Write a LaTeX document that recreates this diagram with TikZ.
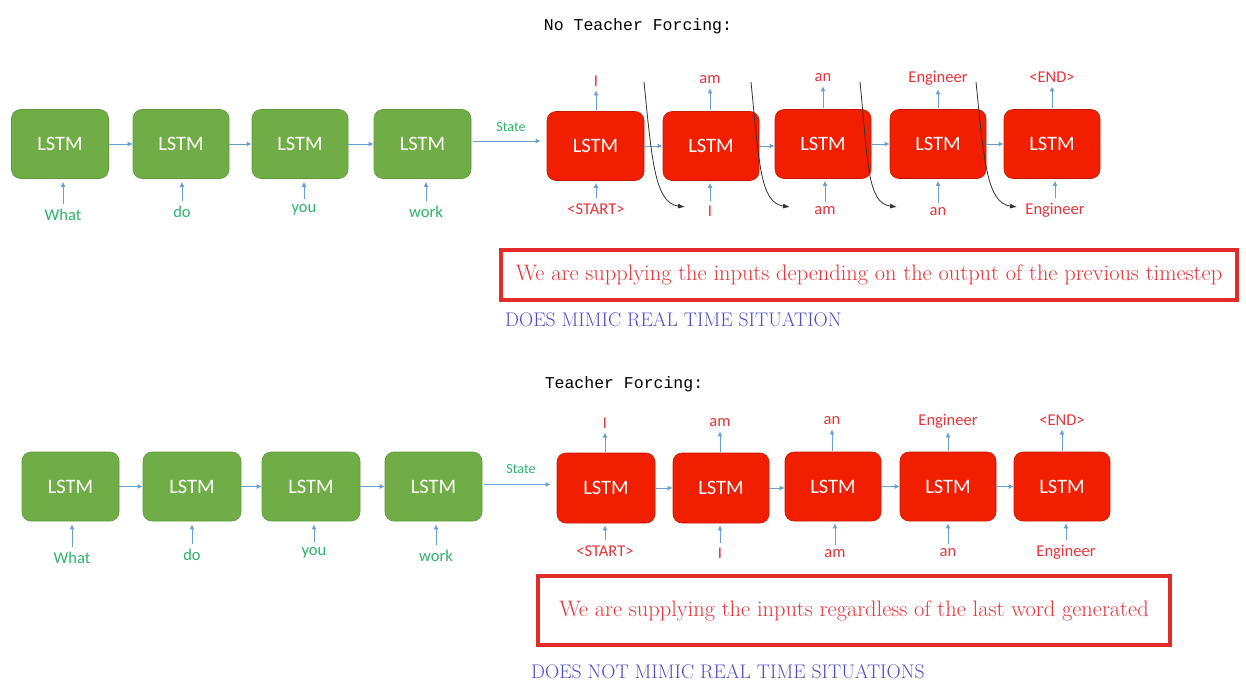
\documentclass[tikz,border=0pt]{standalone}
\usepackage{fontspec}
\setmainfont{Latin Modern Roman}
\newfontfamily\carlitofont{Carlito}
\newfontfamily\monofont{Liberation Mono}
\usetikzlibrary{arrows.meta,calc}
\definecolor{gfill}{HTML}{70AD47}
\definecolor{gdraw}{HTML}{5F9A3B}
\definecolor{rfill}{HTML}{F21E00}
\definecolor{rdraw}{HTML}{C41A00}
\definecolor{ablue}{HTML}{6A9FD4}
\definecolor{lgreen}{HTML}{2DB36B}
\definecolor{lred}{HTML}{E8333A}
\definecolor{bframe}{HTML}{E22B2B}
\definecolor{dblue}{HTML}{4F4FC4}
\tikzset{
  gbox/.style={rectangle, rounded corners=9pt, fill=gfill, draw=gdraw, line width=0.6pt,
    minimum width=97pt, minimum height=69pt, inner sep=0pt, text=white, font=\carlitofont\fontsize{20.5}{22}\selectfont},
  rbox/.style={gbox, fill=rfill, draw=rdraw},
  glab/.style={inner sep=1pt, text=lgreen, font=\carlitofont\fontsize{16.5}{18}\selectfont},
  rlab/.style={inner sep=1pt, text=lred, font=\carlitofont\fontsize{16.5}{18}\selectfont},
  slab/.style={inner sep=1pt, text=lgreen, font=\carlitofont\fontsize{14}{15}\selectfont},
  arr/.style={draw=ablue, line width=1pt, -{Latex[length=5pt,width=5pt]}},
  curv/.style={draw=black!80, line width=0.8pt, -{Latex[length=7pt,width=5pt]}},
  ttl/.style={inner sep=0pt, font=\monofont\fontsize{16.5}{18}\selectfont},
  frame/.style={draw=bframe, line width=3.5pt, fill=white},
  ftext/.style={inner sep=0pt, text=lred, font=\fontsize{22.4}{24}\selectfont},
  btext/.style={inner sep=0pt, anchor=west, text=dblue, font=\fontsize{19.7}{21}\selectfont},
}
\begin{document}
\begin{tikzpicture}[x=1pt,y=-1pt]
\useasboundingbox[fill=white] (0,0) rectangle (1246,688);

% ================= TOP: No Teacher Forcing =================
\node[ttl] (t1) at (638,26) {No Teacher Forcing:};

\node[gbox] (a1) at (60,144) {LSTM};
\node[gbox, minimum width=96pt] (a2) at (181,144) {LSTM};
\node[gbox, minimum width=96pt] (a3) at (300,144) {LSTM};
\node[gbox] (a4) at (422.5,144) {LSTM};

\node[glab] (ai1) at (63,215) {What};
\node[glab] (ai2) at (182,212) {do};
\node[glab] (ai3) at (304,210) {you};
\node[glab] (ai4) at (426,212) {work};
\foreach \i in {1,...,4}{
  \draw[arr, shorten <=4pt, shorten >=3pt] (ai\i.north) -- (ai\i.north |- a\i.south);
}
\draw[arr] (a1.east) -- (a2.west);
\draw[arr] (a2.east) -- (a3.west);
\draw[arr] (a3.east) -- (a4.west);

\node[rbox] (b1) at (595.5,146) {LSTM};
\node[rbox, minimum width=96pt] (b2) at (711,146) {LSTM};
\node[rbox, minimum width=96pt] (b3) at (823,144) {LSTM};
\node[rbox, minimum width=96pt] (b4) at (938,144) {LSTM};
\node[rbox, minimum width=96pt] (b5) at (1052,144) {LSTM};

\node[slab] (st1) at (511,127) {State};
\draw[arr, shorten <=2pt, shorten >=6pt] ([yshift=3pt]a4.east) -- ([yshift=3pt]a4.east -| b1.west);

\draw[arr] (b1.east) -- (b2.west);
\draw[arr] (b2.east) -- (b2.east -| b3.west);
\draw[arr] (b3.east) -- (b4.west);
\draw[arr] (b4.east) -- (b5.west);

\node[rlab] (bo1) at (596,81) {I};
\node[rlab] (bo2) at (710,80) {am};
\node[rlab] (bo3) at (823,78) {an};
\node[rlab] (bo4) at (938,78) {Engineer};
\node[rlab] (bo5) at (1052,77) {<END>};
\node[rlab] (bi1) at (596,209) {<START>};
\node[rlab] (bi2) at (710,211) {I};
\node[rlab] (bi3) at (825,211) {am};
\node[rlab] (bi4) at (938,212) {an};
\node[rlab] (bi5) at (1055,210) {Engineer};
\foreach \i in {1,...,5}{
  \draw[arr, shorten <=1pt, shorten >=3pt] (bo\i.south |- b\i.north) -- (bo\i.south);
  \draw[arr, shorten <=4pt, shorten >=2pt] (bi\i.north) -- (bi\i.north |- b\i.south);
}

% feedback curves
\coordinate (c1s) at (644,82);  \coordinate (c1e) at (685,207);
\coordinate (c2s) at (751,82);  \coordinate (c2e) at (790,207);
\coordinate (c3s) at (860,82);  \coordinate (c3e) at (897,207);
\coordinate (c4s) at (976,82);  \coordinate (c4e) at (1017,207);
\foreach \i in {1,...,4}{
  \draw[curv] (c\i s) .. controls ($(c\i s)+(8,80)$) and ($(c\i e)+(-30,-4)$) .. (c\i e);
}

\node[frame, minimum width=736pt, minimum height=50pt] (f1) at (869,275) {};
\node[ftext] (f1t) at (f1.center) {We are supplying the inputs depending on the output of the previous timestep};
\node[btext] (d1) at (505,320) {DOES MIMIC REAL TIME SITUATION};

% ================= BOTTOM: Teacher Forcing =================
\node[ttl] (t2) at (624,384) {Teacher Forcing:};

\node[gbox] (g1) at (70.5,486.5) {LSTM};
\node[gbox, minimum width=98pt] (g2) at (192,486.5) {LSTM};
\node[gbox, minimum width=98pt] (g3) at (311,486.5) {LSTM};
\node[gbox] (g4) at (433.5,486.5) {LSTM};

\node[glab] (gi1) at (72,558) {What};
\node[glab] (gi2) at (192,555) {do};
\node[glab] (gi3) at (314,553) {you};
\node[glab] (gi4) at (436,556) {work};
\foreach \i in {1,...,4}{
  \draw[arr, shorten <=4pt, shorten >=3pt] (gi\i.north) -- (gi\i.north |- g\i.south);
}
\draw[arr] (g1.east) -- (g2.west);
\draw[arr] (g2.east) -- (g3.west);
\draw[arr] (g3.east) -- (g4.west);

\node[rbox, minimum width=98pt, minimum height=70pt] (r1) at (606,488) {LSTM};
\node[rbox, minimum width=96pt, minimum height=70pt] (r2) at (721,488) {LSTM};
\node[rbox, minimum width=96pt] (r3) at (833,486.5) {LSTM};
\node[rbox, minimum width=96pt] (r4) at (948,486.5) {LSTM};
\node[rbox, minimum width=96pt] (r5) at (1062,486.5) {LSTM};

\node[slab] (st2) at (521,469) {State};
\draw[arr, shorten <=2pt, shorten >=6pt] ([yshift=2pt]g4.east) -- ([yshift=2pt]g4.east -| r1.west);

\draw[arr] (r1.east) -- (r1.east -| r2.west);
\draw[arr] (r2.east) -- (r2.east -| r3.west);
\draw[arr] (r3.east) -- (r4.west);
\draw[arr] (r4.east) -- (r5.west);

\node[rlab] (ro1) at (605,423) {I};
\node[rlab] (ro2) at (720,423) {am};
\node[rlab] (ro3) at (832,421) {an};
\node[rlab] (ro4) at (948,421) {Engineer};
\node[rlab] (ro5) at (1062,420) {<END>};
\node[rlab] (ri1) at (605,551) {<START>};
\node[rlab] (ri2) at (720,553) {I};
\node[rlab] (ri3) at (835,554) {am};
\node[rlab] (ri4) at (948,553) {an};
\node[rlab] (ri5) at (1066,552) {Engineer};
\foreach \i in {1,...,5}{
  \draw[arr, shorten <=1pt, shorten >=3pt] (ro\i.south |- r\i.north) -- (ro\i.south);
  \draw[arr, shorten <=4pt, shorten >=2pt] (ri\i.north) -- (ri\i.north |- r\i.south);
}

\node[frame, minimum width=632pt, minimum height=69pt] (f2) at (854,610.5) {};
\node[ftext] (f2t) at (f2.center) {We are supplying the inputs regardless of the last word generated};
\node[btext] (d2) at (531,672) {DOES NOT MIMIC REAL TIME SITUATIONS};
\end{tikzpicture}
\end{document}
